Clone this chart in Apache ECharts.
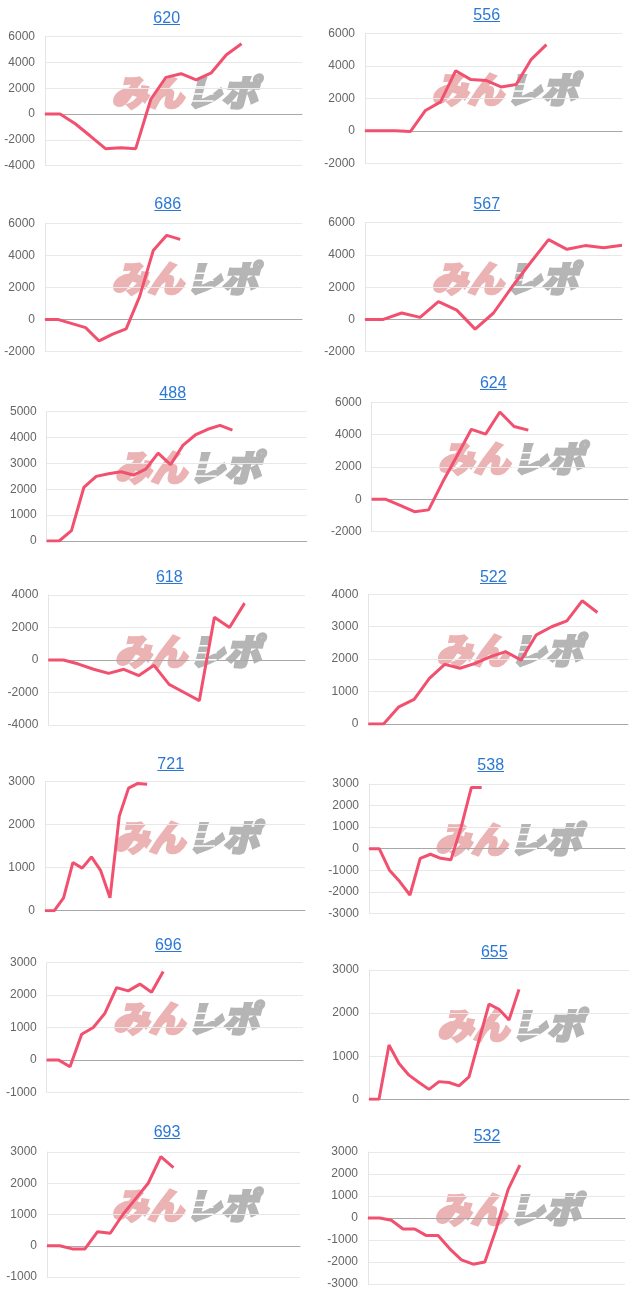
<!DOCTYPE html>
<html>
<head>
<meta charset="utf-8">
<script src="https://cdn.jsdelivr.net/npm/echarts@6/dist/echarts.min.js"></script>
<style>
  html, body { margin: 0; padding: 0; background: #fff; }
  #wrap { position: relative; width: 640px; height: 1303px; }
  #chart { position: absolute; left: 0; top: 0; width: 640px; height: 1303px; }
  .ttl {
    position: absolute;
    transform: translate(-50%, -50%);
    font: 16px Arial, "Liberation Sans", sans-serif;
    color: #2b78d4;
    text-decoration: underline;
    white-space: nowrap;
    z-index: 2;
  }
</style>
</head>
<body>
<div id="wrap">
  <div id="chart"></div>
</div>
<script>
// ---- data ----
const titles = ['620', '556', '686', '567', '488', '624', '618', '522', '721', '538', '696', '655', '693', '532']
const catCounts = [18, 18, 20, 15, 22, 19, 18, 18, 29, 26, 23, 27, 21, 23]
const yMins = [-4000, -2000, -2000, -2000, 0, -2000, -4000, 0, 0, -3000, -1000, 0, -1000, -3000]
const yMaxs = [6000, 6000, 6000, 6000, 5000, 6000, 4000, 4000, 3000, 3000, 3000, 3000, 3000, 3000]
const yIntervals = [2000, 2000, 2000, 2000, 1000, 2000, 2000, 1000, 1000, 1000, 1000, 1000, 1000, 1000]

const s620 = [0, 0, -750, -1700, -2680, -2600, -2680, 1150, 2850, 3130, 2650, 3200, 4600, 5450]
const s556 = [0, 0, 0, -50, 1250, 1780, 3700, 3150, 3100, 2700, 2850, 4400, 5300]
const s686 = [0, 0, -250, -500, -1330, -900, -580, 1450, 4300, 5250, 5000]
const s567 = [0, 0, 400, 130, 1100, 580, -600, 400, 2000, 3500, 4950, 4350, 4580, 4450, 4600]
const s488 = [0, 0, 400, 2070, 2500, 2600, 2680, 2550, 2780, 3400, 2950, 3700, 4100, 4320, 4470, 4290]
const s624 = [0, 0, -380, -760, -650, 1100, 2700, 4330, 4030, 5400, 4500, 4280]
const s618 = [0, 0, -250, -570, -820, -570, -960, -330, -1500, -2000, -2500, 2630, 2000, 3500]
const s522 = [0, 0, 530, 760, 1410, 1840, 1720, 1870, 2080, 2230, 1970, 2750, 3000, 3180, 3800, 3440]
const s721 = [0, 0, 300, 1120, 990, 1250, 930, 300, 2200, 2850, 2960, 2940]
const s538 = [0, 0, -1000, -1530, -2150, -450, -260, -450, -520, 1000, 2840, 2840]
const s696 = [0, 0, -210, 790, 1000, 1440, 2230, 2130, 2340, 2090, 2730]
const s655 = [0, 0, 1260, 830, 560, 390, 230, 410, 390, 310, 520, 1370, 2210, 2090, 1840, 2550]
const s693 = [0, 0, -100, -100, 450, 400, 1000, 1500, 2000, 2850, 2500]
const s532 = [0, 0, -100, -500, -500, -800, -800, -1400, -1900, -2100, -2000, -450, 1300, 2400]
const values = [s620, s556, s686, s567, s488, s624, s618, s522, s721, s538, s696, s655, s693, s532]

// ---- layout (page px): plot box [left, top, right, bottom], title centre [x, y] ----
const boxes = [
  [45, 36.7, 302, 165.7], [365, 33.3, 622, 163.3],
  [45, 223.3, 302, 351.7], [365, 222.7, 622, 351.7],
  [46.7, 411.7, 306.7, 541], [371.7, 402.3, 628, 531.7],
  [48.3, 595, 305, 725], [368.3, 594.3, 628, 724],
  [45, 781.7, 305, 910.7], [369, 784, 625, 913.3],
  [46.7, 962.7, 303, 1092.3], [369, 970, 629, 1099.3],
  [47, 1152, 300, 1277], [368, 1152, 625, 1284]
]
const titlePos = [
  [166.7, 18.3], [486.7, 15],
  [167.7, 204.3], [486.7, 204.3],
  [172.7, 393.3], [493.3, 383.3],
  [169.3, 577.3], [493.3, 577.3],
  [170.7, 764.3], [490.7, 765],
  [168.3, 945], [494.3, 951.7],
  [167, 1132], [487, 1136]
]

const wrap = document.getElementById('wrap')
titles.forEach((t, i) => {
  const a = document.createElement('a')
  a.className = 'ttl'
  a.textContent = t
  a.style.left = titlePos[i][0] + 'px'
  a.style.top = titlePos[i][1] + 'px'
  wrap.appendChild(a)
})

const grid = []
const xAxis = []
const yAxis = []
const series = []
const graphic = []
const wmFont = 'italic 900 36px "Noto Sans CJK JP", sans-serif'

for (let i = 0; i < titles.length; i++) {
  const b = boxes[i]
  grid.push({
    left: b[0],
    top: b[1],
    width: b[2] - b[0],
    height: b[3] - b[1],
    containLabel: false,
    outerBoundsMode: 'none'
  })
  const cats = []
  for (let j = 1; j <= catCounts[i]; j++) cats.push(String(j))
  xAxis.push({
    type: 'category',
    gridIndex: i,
    data: cats,
    boundaryGap: false,
    axisTick: { show: false },
    axisLabel: { show: false },
    axisLine: { onZero: true, lineStyle: { color: '#a8a8a8', width: 1 } },
    splitLine: { show: false }
  })
  yAxis.push({
    type: 'value',
    gridIndex: i,
    min: yMins[i],
    max: yMaxs[i],
    interval: yIntervals[i],
    axisTick: { show: false },
    axisLine: { show: true, lineStyle: { color: '#e4e4e4' } },
    axisLabel: {
      color: '#666',
      fontSize: 12,
      margin: 10,
      fontFamily: 'Arial, "Liberation Sans", sans-serif',
      formatter: v => String(v)
    },
    splitLine: { lineStyle: { color: '#e8e8e8' } }
  })
  series.push({
    type: 'line',
    xAxisIndex: i,
    yAxisIndex: i,
    data: values[i],
    showSymbol: false,
    symbol: 'none',
    z: 3,
    lineStyle: { color: '#f2506f', width: 3 },
    itemStyle: { color: '#f2506f' }
  })
  // watermark logo
  const cx = (b[0] + b[2]) / 2 + 10
  const cy = (b[1] + b[3]) / 2 - 9
  graphic.push({
    type: 'text',
    x: cx,
    y: cy,
    z: 0,
    silent: true,
    style: {
      text: 'みん', font: wmFont, fill: '#ebb3b3', stroke: '#ebb3b3', lineWidth: 2.5,
      textAlign: 'right', textVerticalAlign: 'middle'
    }
  })
  graphic.push({
    type: 'text',
    x: cx + 2,
    y: cy,
    z: 0,
    silent: true,
    style: {
      text: 'レポ', font: wmFont, fill: '#b5b5b5', stroke: '#b5b5b5', lineWidth: 2.5,
      textAlign: 'left', textVerticalAlign: 'middle'
    }
  })
  // speed stripes through the grey half
  ;[-6, 1, 8].forEach(dy => {
    graphic.push({
      type: 'rect',
      z: 1,
      silent: true,
      shape: { x: cx + 2, y: cy + dy, width: 28, height: 1.5 },
      style: { fill: '#fff' }
    })
  })
}

const chart = echarts.init(document.getElementById('chart'))
chart.setOption({
  animation: false,
  grid: grid,
  xAxis: xAxis,
  yAxis: yAxis,
  series: series,
  graphic: graphic
})
</script>
</body>
</html>
